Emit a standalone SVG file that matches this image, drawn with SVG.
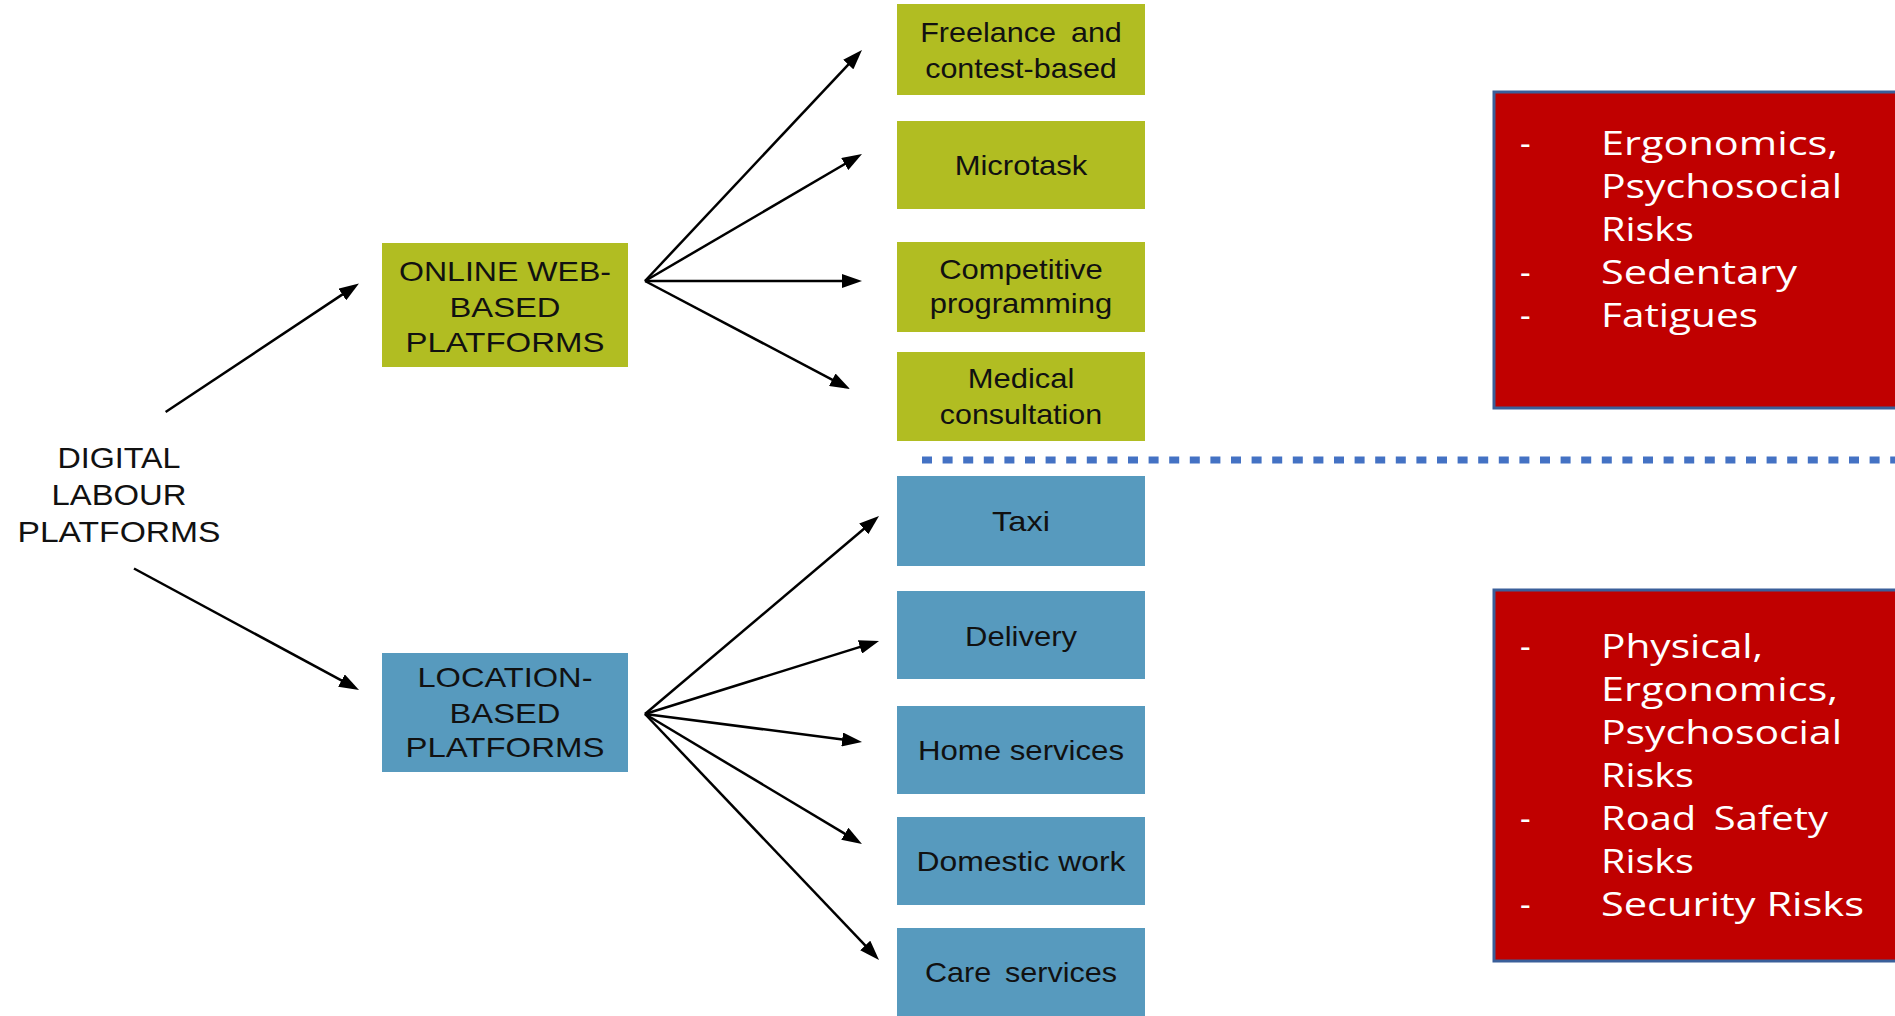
<svg xmlns="http://www.w3.org/2000/svg" width="1895" height="1016" viewBox="0 0 1895 1016">
<style>
.t{font-family:"Liberation Sans",Arial,sans-serif;fill:#111;text-anchor:middle}
.big{font-size:29px}
.box{font-size:28px}
.g{fill:#B1BD22}
.b{fill:#579ABE}
.r{fill:#C00000;stroke:#3A5F9A;stroke-width:3}
.w{font-family:"Open Sans","Noto Sans",sans-serif;font-size:33px;fill:#FFFFFF}
.c line{stroke:#000;stroke-width:2.5;marker-end:url(#ah)}
</style>
<defs>
<marker id="ah" markerUnits="userSpaceOnUse" markerWidth="20" markerHeight="14" refX="12" refY="7" orient="auto">
<path d="M0,0 L20,7 L0,14 z" fill="#000"/>
</marker>
</defs>
<rect width="1895" height="1016" fill="#FFFFFF"/>

<g id="digital-labour-platforms">
<text class="t big" x="119" y="467.7" textLength="123" lengthAdjust="spacingAndGlyphs">DIGITAL</text>
<text class="t big" x="119" y="505" textLength="135" lengthAdjust="spacingAndGlyphs">LABOUR</text>
<text class="t big" x="119" y="541.7" textLength="203" lengthAdjust="spacingAndGlyphs">PLATFORMS</text>
</g>

<g id="online-web-based">
<rect class="g" x="382" y="243" width="246" height="124"/>
<text class="t box" x="505" y="281" textLength="212" lengthAdjust="spacingAndGlyphs">ONLINE WEB-</text>
<text class="t box" x="505" y="316.7" textLength="111" lengthAdjust="spacingAndGlyphs">BASED</text>
<text class="t box" x="505" y="351.7" textLength="199" lengthAdjust="spacingAndGlyphs">PLATFORMS</text>
</g>

<g id="location-based">
<rect class="b" x="382" y="653" width="246" height="119"/>
<text class="t box" x="505" y="687.3" textLength="175" lengthAdjust="spacingAndGlyphs">LOCATION-</text>
<text class="t box" x="505" y="722.7" textLength="111" lengthAdjust="spacingAndGlyphs">BASED</text>
<text class="t box" x="505" y="756.7" textLength="199" lengthAdjust="spacingAndGlyphs">PLATFORMS</text>
</g>

<g id="freelance">
<rect class="g" x="897" y="4" width="248" height="91"/>
<text class="t box" x="1021" y="42.3" word-spacing="6" textLength="201.7" lengthAdjust="spacingAndGlyphs">Freelance and</text>
<text class="t box" x="1021" y="77.7" textLength="191.7" lengthAdjust="spacingAndGlyphs">contest-based</text>
</g>
<g id="microtask">
<rect class="g" x="897" y="121" width="248" height="88"/>
<text class="t box" x="1021" y="175" textLength="132.7" lengthAdjust="spacingAndGlyphs">Microtask</text>
</g>
<g id="competitive-programming">
<rect class="g" x="897" y="242" width="248" height="90"/>
<text class="t box" x="1021" y="279.3" textLength="163.7" lengthAdjust="spacingAndGlyphs">Competitive</text>
<text class="t box" x="1021" y="313.3" textLength="182.3" lengthAdjust="spacingAndGlyphs">programming</text>
</g>
<g id="medical-consultation">
<rect class="g" x="897" y="352" width="248" height="89"/>
<text class="t box" x="1021" y="388.3" textLength="106.7" lengthAdjust="spacingAndGlyphs">Medical</text>
<text class="t box" x="1021" y="424" textLength="162.3" lengthAdjust="spacingAndGlyphs">consultation</text>
</g>

<g id="taxi">
<rect class="b" x="897" y="476" width="248" height="90"/>
<text class="t box" x="1021" y="531.3" textLength="58" lengthAdjust="spacingAndGlyphs">Taxi</text>
</g>
<g id="delivery">
<rect class="b" x="897" y="591" width="248" height="88"/>
<text class="t box" x="1021" y="645.8" textLength="112" lengthAdjust="spacingAndGlyphs">Delivery</text>
</g>
<g id="home-services">
<rect class="b" x="897" y="706" width="248" height="88"/>
<text class="t box" x="1021" y="760.3" textLength="206" lengthAdjust="spacingAndGlyphs">Home services</text>
</g>
<g id="domestic-work">
<rect class="b" x="897" y="817" width="248" height="88"/>
<text class="t box" x="1021" y="870.8" textLength="209" lengthAdjust="spacingAndGlyphs">Domestic work</text>
</g>
<g id="care-services">
<rect class="b" x="897" y="928" width="248" height="92"/>
<text class="t box" x="1021" y="981.5" word-spacing="5" textLength="192" lengthAdjust="spacingAndGlyphs">Care services</text>
</g>

<g id="divider">
<line x1="922" y1="460" x2="1900" y2="460" stroke="#4472C4" stroke-width="7" stroke-dasharray="10 10.6"/>
</g>

<g id="online-risks">
<rect class="r" x="1494" y="92" width="420" height="316"/>
<text class="w" x="1520" y="155">-</text>
<text class="w" x="1601" y="155" textLength="237" lengthAdjust="spacingAndGlyphs">Ergonomics,</text>
<text class="w" x="1601" y="198" textLength="241" lengthAdjust="spacingAndGlyphs">Psychosocial</text>
<text class="w" x="1601" y="241" textLength="93" lengthAdjust="spacingAndGlyphs">Risks</text>
<text class="w" x="1520" y="284">-</text>
<text class="w" x="1601" y="284" textLength="196" lengthAdjust="spacingAndGlyphs">Sedentary</text>
<text class="w" x="1520" y="327">-</text>
<text class="w" x="1601" y="327" textLength="157" lengthAdjust="spacingAndGlyphs">Fatigues</text>
</g>

<g id="location-risks">
<rect class="r" x="1494" y="590" width="420" height="371"/>
<text class="w" x="1520" y="658">-</text>
<text class="w" x="1601" y="658" textLength="162" lengthAdjust="spacingAndGlyphs">Physical,</text>
<text class="w" x="1601" y="701" textLength="237" lengthAdjust="spacingAndGlyphs">Ergonomics,</text>
<text class="w" x="1601" y="744" textLength="241" lengthAdjust="spacingAndGlyphs">Psychosocial</text>
<text class="w" x="1601" y="787" textLength="93" lengthAdjust="spacingAndGlyphs">Risks</text>
<text class="w" x="1520" y="830">-</text>
<text class="w" x="1601" y="830" word-spacing="6" textLength="227" lengthAdjust="spacingAndGlyphs">Road Safety</text>
<text class="w" x="1601" y="873" textLength="93" lengthAdjust="spacingAndGlyphs">Risks</text>
<text class="w" x="1520" y="916">-</text>
<text class="w" x="1601" y="916" textLength="263" lengthAdjust="spacingAndGlyphs">Security Risks</text>
</g>

<g id="connectors" class="c">
<line x1="165.6" y1="412" x2="352.3" y2="287.9"/>
<line x1="134" y1="568.5" x2="352" y2="686.2"/>
<line x1="645" y1="281" x2="856.5" y2="55.8"/>
<line x1="645" y1="281" x2="855.1" y2="158"/>
<line x1="645" y1="281" x2="854" y2="281"/>
<line x1="645" y1="281" x2="842.9" y2="385.3"/>
<line x1="645" y1="714" x2="872.9" y2="521.2"/>
<line x1="645" y1="714" x2="871.4" y2="643.4"/>
<line x1="645" y1="714" x2="854.1" y2="741"/>
<line x1="645" y1="714" x2="855.1" y2="839.9"/>
<line x1="645" y1="714" x2="873.5" y2="954.2"/>
</g>
</svg>
